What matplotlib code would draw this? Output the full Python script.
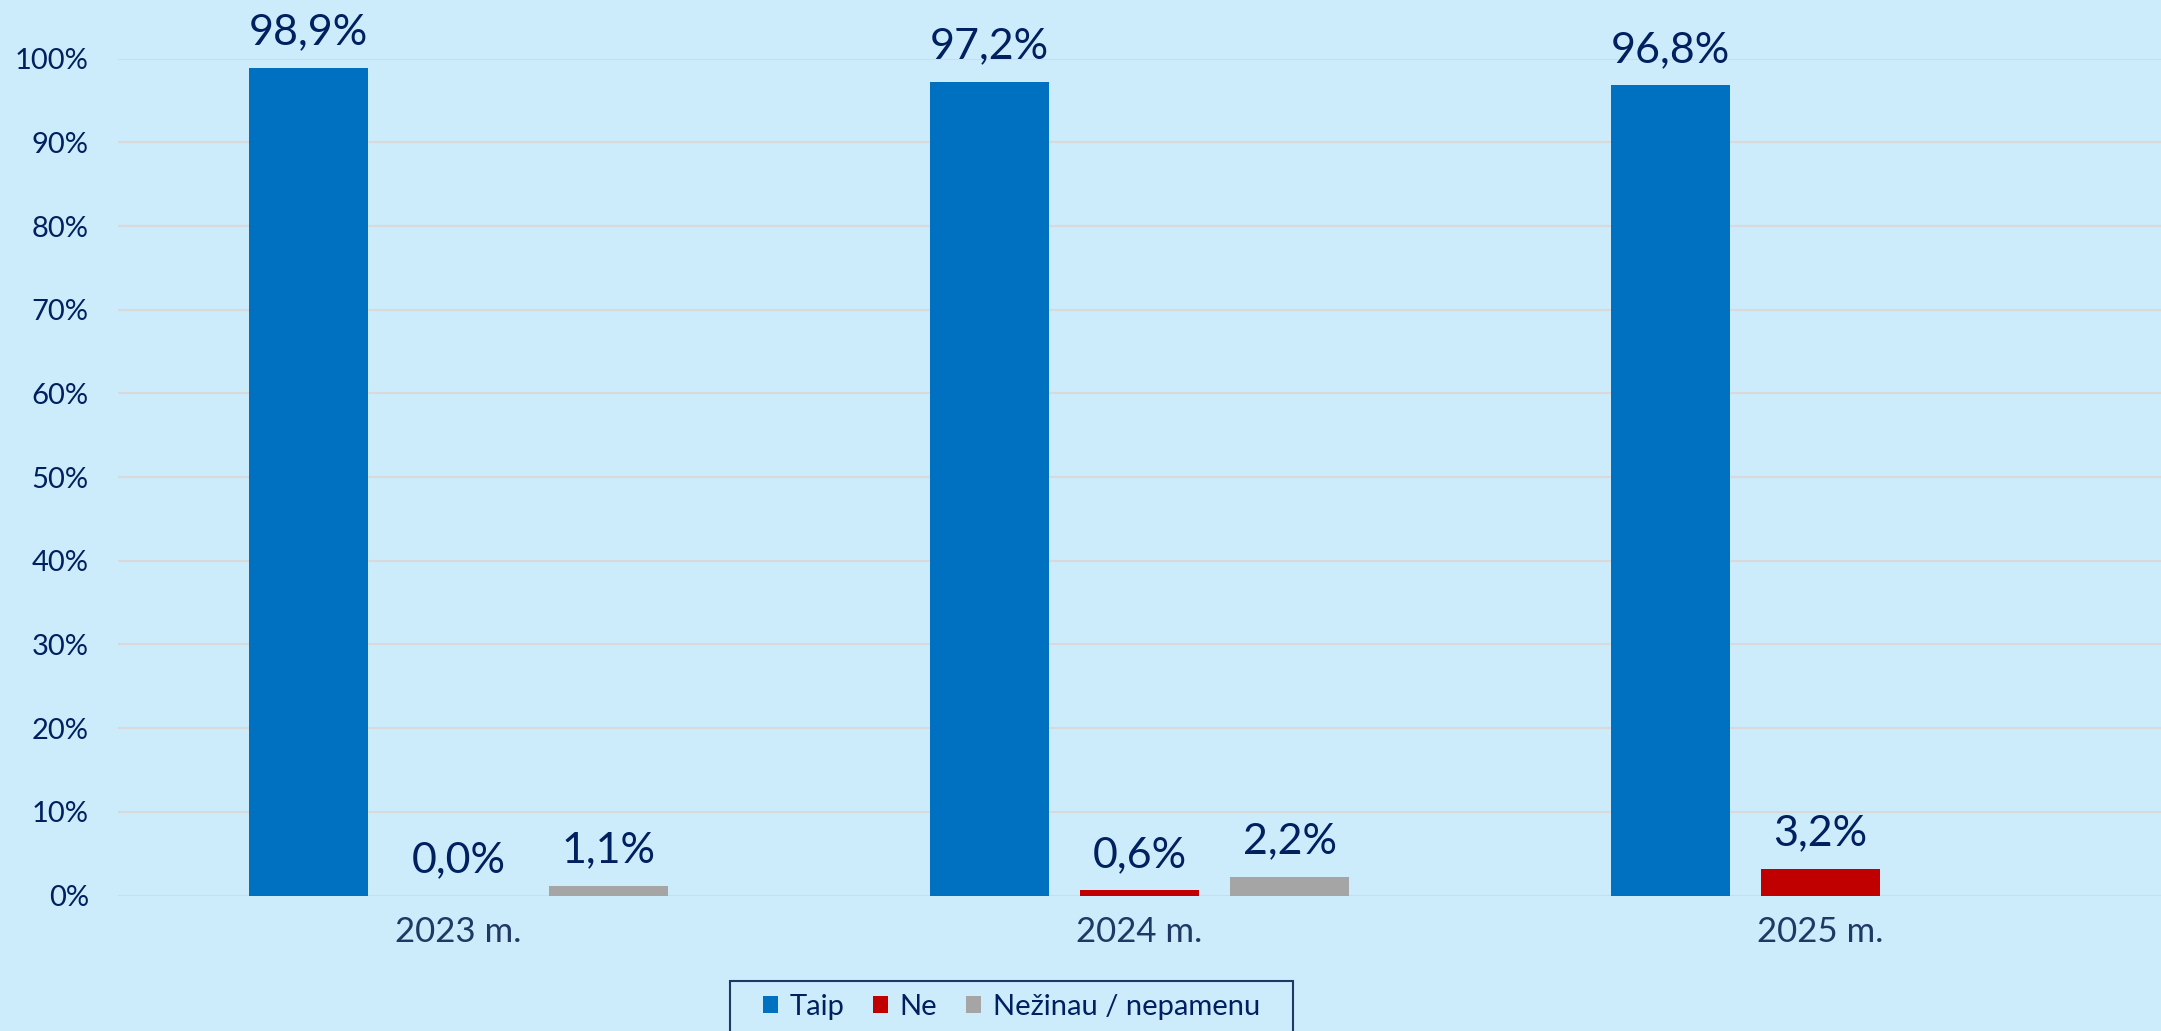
import numpy as np
import matplotlib
matplotlib.use("Agg")
import matplotlib.pyplot as plt
from matplotlib.patches import Rectangle

years = ['2023 m.', '2024 m.', '2025 m.']
taip = [98.9, 97.2, 96.8]
ne = [0.0, 0.6, 3.2]
nezinau = [1.1, 2.2, np.nan]  # 2025 m. - nera
series_names = ['Taip', 'Ne', 'Nežinau / nepamenu']
yticks = list(range(0, 101, 10))

bg = '#CCEBFB'
navy = '#002060'
colors = ['#0070C0', '#C00000', '#A5A5A5']

plt.rcParams['font.family'] = ['Lato', 'DejaVu Sans']

W, H = 2161, 1031
fig = plt.figure(figsize=(W / 100, H / 100), dpi=100, facecolor=bg)
ax = fig.add_axes([118 / W, 1 - 895.5 / H, 1 - 118 / W, (895.5 - 58.7) / H])
ax.set_facecolor(bg)

x = np.arange(len(years))
width = 0.174
step = 0.2204
for i, (vals, col, name) in enumerate(zip([taip, ne, nezinau], colors, series_names)):
    pos = x + (i - 1) * step
    ax.bar(pos, vals, width, color=col, label=name, zorder=3)
    for p, v in zip(pos, vals):
        if np.isnan(v):
            continue
        ax.annotate(f"{v:.1f}%".replace('.', ','), (p, v), xytext=(0, 17),
                    textcoords='offset points', ha='center', va='baseline',
                    fontsize=31, color=navy, annotation_clip=False)

ax.set_xlim(-0.5, 2.5)
ax.set_ylim(0, 100)
ax.set_yticks(yticks)
ax.set_yticklabels([f"{t}%" for t in yticks], fontsize=21, color=navy)
ax.set_xticks(x)
ax.set_xticklabels(years, fontsize=25, color='#1F3864')
ax.tick_params(axis='y', length=0, pad=21)
ax.tick_params(axis='x', length=0, pad=15)
ax.grid(axis='y', color='#D9D9D9', linewidth=1.5, zorder=0)
ax.set_axisbelow(True)
for s in ax.spines.values():
    s.set_visible(False)

# legenda be remelio, remelis piesiamas atskirai
leg = fig.legend(loc='center', bbox_to_anchor=(1011.5 / W, 1 - 1007 / H),
                 ncol=3, frameon=False, fontsize=21,
                 handlelength=0.5, handleheight=0.5, handletextpad=0.4,
                 columnspacing=1.0, borderpad=0, borderaxespad=0, labelcolor=navy)

fig.canvas.draw()
bb = leg.get_window_extent()
pad_x = 33
fig.add_artist(Rectangle(((bb.x0 - pad_x) / W, -0.05), (bb.width + 2 * pad_x) / W,
                         (1 - 981 / H) + 0.05, transform=fig.transFigure,
                         facecolor='none', edgecolor='#1F3864', linewidth=1.5))

fig.savefig('out.png', dpi=100, facecolor=bg)
